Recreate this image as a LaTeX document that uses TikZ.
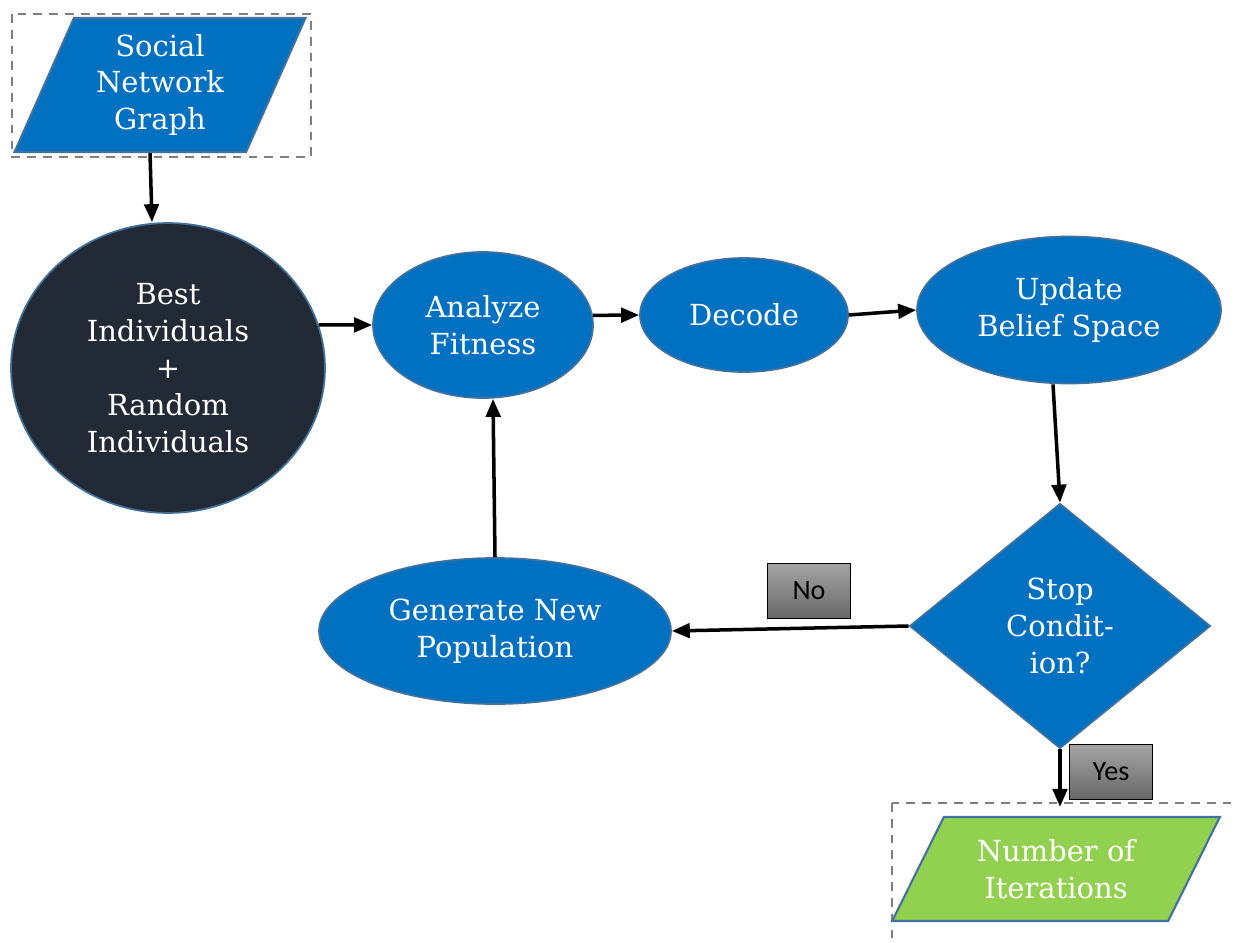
\documentclass[tikz,border=0pt]{standalone}
\usepackage{fontspec}
\setmainfont{DejaVu Serif}
\newfontfamily\lblfont{Carlito}
\usetikzlibrary{shapes.geometric,positioning,arrows.meta}
\definecolor{nodeblue}{RGB}{0,112,192}
\definecolor{edgeblue}{RGB}{65,113,156}
\definecolor{darknavy}{RGB}{34,42,53}
\definecolor{leafgreen}{RGB}{146,208,80}
\definecolor{dashgray}{RGB}{127,127,127}
\definecolor{lbltop}{RGB}{164,164,164}
\definecolor{lblbot}{RGB}{104,104,104}

\begin{document}
\begin{tikzpicture}[x=0.02cm, y=-0.02cm]
    \tikzstyle{enode} = [draw=edgeblue, line width=1pt, fill=nodeblue, ellipse, inner sep=0pt, align=center, text=white, font=\fontsize{16.5}{21}\selectfont]
    \tikzstyle{pnode} = [draw=edgeblue, line width=1.2pt, trapezium, trapezium stretches=true, inner sep=0pt, align=center, text=white, font=\fontsize{16.5}{21}\selectfont]
    \tikzstyle{lbl} = [draw=black, line width=0.8pt, top color=lbltop, bottom color=lblbot, minimum width=1.66cm, minimum height=1.09cm, font=\lblfont\fontsize{16}{19}\selectfont]
    \tikzstyle{frame} = [draw=dashgray, line width=1.5pt, dash pattern=on 5pt off 4pt]
    \tikzstyle{arr} = [line width=2pt, -{Triangle[length=0.36cm,width=0.29cm]}]

    \useasboundingbox (0,0) rectangle (1238,943);

    \draw[frame] (12,14) rectangle (311,157);
    \draw[frame] (892,803) rectangle (1270,990);

    \node[pnode, fill=nodeblue, trapezium left angle=66.6, trapezium right angle=113.4, minimum width=5.82cm, minimum height=2.68cm] (social) at (160,85) {Social\\Network\\Graph};
    \node[enode, fill=darknavy, minimum width=6.28cm, minimum height=5.8cm] (best) at (168,368) {Best\\Individuals\\+\\Random\\Individuals};
    \node[enode, minimum width=4.4cm, minimum height=2.92cm] (fit) at (483,325) {Analyze\\Fitness};
    \node[enode, minimum width=4.16cm, minimum height=2.28cm] (dec) at (744,315) {Decode};
    \node[enode, minimum width=6.08cm, minimum height=2.94cm] (upd) at (1069,310) {Update\\Belief Space};
    \node[enode, diamond, aspect=1, minimum width=6.02cm, minimum height=4.9cm] (stop) at (1060,626) {Stop\\Condit-\\ion?};
    \node[enode, minimum width=7.04cm, minimum height=2.92cm] (gen) at (495,631) {Generate New\\Population};
    \node[pnode, fill=leafgreen, trapezium left angle=58.4, trapezium right angle=121.6, minimum width=6.56cm, minimum height=2.08cm] (iter) at (1056,869) {Number of\\Iterations};

    \node[lbl] (no) at (809,591) {No};
    \node[lbl] (yes) at (1111,772) {Yes};

    \draw[arr] ([xshift=-0.2cm]social.south) -- ([xshift=-0.32cm]best.north);
    \draw[arr] (best.16) -- (fit.west);
    \draw[arr] (fit.5) -- (dec.west);
    \draw[arr] (dec.east) -- (upd.west);
    \draw[arr] ([xshift=-0.32cm]upd.south) -- (stop.north);
    \draw[arr] (stop.west) -- (gen.east);
    \draw[arr] (gen.north) -- ([xshift=0.2cm]fit.south);
    \draw[arr, shorten >=0.18cm] (stop.south) -- (stop.south |- iter.north);
\end{tikzpicture}
\end{document}
